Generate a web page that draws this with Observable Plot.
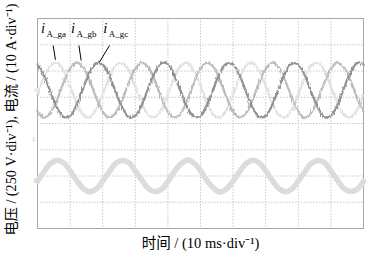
<!DOCTYPE html>
<html>
<head>
<meta charset="utf-8">
<script src="https://cdn.jsdelivr.net/npm/d3@7"></script>
<script src="https://cdn.jsdelivr.net/npm/@observablehq/plot@0.6"></script>
<style>
  html, body { margin: 0; padding: 0; background: white; }
</style>
</head>
<body>
<div id="chart"></div>
<script>
// time in ms (10 ms per division, 10 divisions)
const time = [0,2,4,6,8,10,12,14,16,18,20,22,24,26,28,30,32,34,36,38,40,42,44,46,48,50,52,54,56,58,60,62,64,66,68,70,72,74,76,78,80,82,84,86,88,90,92,94,96,98,100];
// values in divisions from the bottom of the screen
const iA_ga = [5.11,5.76,6.21,6.31,6.01,5.43,4.78,4.33,4.23,4.53, 5.12,5.75,6.22,6.30,6.02,5.42,4.79,4.32,4.24,4.52, 5.10,5.77,6.20,6.32,6.00,5.44,4.77,4.34,4.22,4.54, 5.11,5.76,6.21,6.31,6.01,5.43,4.78,4.33,4.23,4.53, 5.12,5.74,6.22,6.30,6.02,5.42,4.79,4.32,4.24,4.52, 5.11];
const iA_gb = [4.45,4.22,4.40,4.91,5.55,6.09,6.32,6.14,5.63,4.99, 4.46,4.21,4.41,4.90,5.56,6.08,6.33,6.13,5.64,4.98, 4.44,4.23,4.39,4.92,5.54,6.10,6.31,6.15,5.62,5.00, 4.45,4.22,4.40,4.91,5.55,6.09,6.32,6.14,5.63,4.99, 4.46,4.21,4.41,4.90,5.56,6.08,6.33,6.13,5.64,4.98, 4.45];
const iA_gc = [6.25,5.83,5.20,4.60,4.25,4.29,4.71,5.34,5.94,6.29, 6.24,5.84,5.19,4.61,4.24,4.30,4.70,5.35,5.93,6.30, 6.26,5.82,5.21,4.59,4.26,4.28,4.72,5.33,5.95,6.28, 6.25,5.83,5.20,4.60,4.25,4.29,4.71,5.34,5.94,6.29, 6.24,5.84,5.19,4.61,4.24,4.30,4.70,5.35,5.93,6.30, 6.25];
const voltage = [1.80,2.17,2.47,2.60,2.50,2.20,1.83,1.53,1.40,1.50, 1.81,2.16,2.48,2.59,2.51,2.19,1.84,1.52,1.41,1.49, 1.79,2.18,2.46,2.61,2.49,2.21,1.82,1.54,1.39,1.51, 1.80,2.17,2.47,2.60,2.50,2.20,1.83,1.53,1.40,1.50, 1.81,2.16,2.48,2.59,2.51,2.19,1.84,1.52,1.41,1.49, 1.80];

const xTicks = [10,20,30,40,50,60,70,80,90];
const yTicks = [1,2,3,4,5,6,7];

// labels for the current traces
const labelSub = ["A_ga","A_gb","A_gc"];
const labelT = [1.1, 10.3, 20.2];
const labelV = [7.43, 7.43, 7.43];
const leaderT1 = [4.8, 12.7, 22.1];
const leaderV1 = [6.97, 6.97, 6.97];
const leaderT2 = [5.5, 13.4, 19.0];
const leaderV2 = [6.43, 6.40, 6.34];

// oscilloscope screen markers at the left edge (ground levels, channel number)
const groundV = [5.27, 1.82];
const groundColor = ["#ececec", "#d6d6d6"];
const channelText = ["1"];
const channelV = [3.39];

const xLabel = "时间 / (10 ms·div⁻¹)";
const yLabel = "电压 / (250 V·div⁻¹), 电流 / (10 A·div⁻¹)";

const rows = (vals) => time.map((t, i) => ({t, v: vals[i]}));
const labels = labelSub.map((s, i) => ({s, t: labelT[i], v: labelV[i], t1: leaderT1[i], v1: leaderV1[i], t2: leaderT2[i], v2: leaderV2[i]}));
const grounds = groundV.map((v, i) => ({v, c: groundColor[i]}));

const font = "'Liberation Serif', 'Noto Sans CJK SC', serif";

const chart = Plot.plot({
  width: 368,
  height: 254,
  marginLeft: 37,
  marginRight: 5,
  marginTop: 18,
  marginBottom: 26,
  x: {domain: [0, 100], axis: null},
  y: {domain: [0, 8], axis: null},
  style: {background: "white", fontFamily: font},
  marks: [
    Plot.gridX(xTicks, {stroke: "#c8c8c8", strokeOpacity: 1, strokeDasharray: "1.5,1.5"}),
    Plot.gridY(yTicks, {stroke: "#c8c8c8", strokeOpacity: 1, strokeDasharray: "1.5,1.5"}),
    Plot.frame({stroke: "#a8a8a8"}),
    Plot.dot(grounds, {x: 0, y: "v", dx: -1, symbol: "square", r: 2.6, fill: "c", stroke: null}),
    Plot.text(channelText, {x: 0, y: channelV, text: d => d, dx: -4, fontSize: 6, fill: "#b0b0b0"}),
    Plot.line(rows(voltage), {x: "t", y: "v", stroke: "#dcdcdc", strokeWidth: 5.5, curve: "catmull-rom"}),
    Plot.line(rows(iA_ga), {x: "t", y: "v", stroke: "#e2e2e2", strokeWidth: 2.3, curve: "catmull-rom"}),
    Plot.line(rows(iA_gb), {x: "t", y: "v", stroke: "#bcbcbc", strokeWidth: 2.3, curve: "catmull-rom"}),
    Plot.line(rows(iA_gc), {x: "t", y: "v", stroke: "#939393", strokeWidth: 2.3, curve: "catmull-rom"}),
    Plot.link(labels, {x1: "t1", y1: "v1", x2: "t2", y2: "v2", stroke: "black", strokeWidth: 1}),
    Plot.text(labels, {x: "t", y: "v", text: () => "i", fontStyle: "italic", fontSize: 14.5, textAnchor: "start", lineAnchor: "bottom", fill: "black"}),
    Plot.text(labels, {x: "t", y: "v", text: "s", fontSize: 9, textAnchor: "start", lineAnchor: "bottom", dx: 5.5, dy: 4, fill: "black"}),
    Plot.text([xLabel], {frameAnchor: "bottom", textAnchor: "middle", lineAnchor: "middle", dy: 15, fontSize: 14.5, fill: "black"}),
    Plot.text([yLabel], {frameAnchor: "left", textAnchor: "middle", lineAnchor: "middle", rotate: -90, dx: -26, dy: -4, fontSize: 14.2, fill: "black"})
  ]
});

// add a switching-ripple texture to the current traces
const svgNS = "http://www.w3.org/2000/svg";
const defs = document.createElementNS(svgNS, "defs");
defs.innerHTML = '<filter id="rip" x="-5%" y="-20%" width="110%" height="140%"><feTurbulence type="fractalNoise" baseFrequency="0.9 0.25" numOctaves="1" seed="4" result="n"/><feDisplacementMap in="SourceGraphic" in2="n" scale="4" xChannelSelector="R" yChannelSelector="G"/></filter>';
chart.insertBefore(defs, chart.firstChild);
const lineGroups = chart.querySelectorAll('g[aria-label="line"]');
lineGroups.forEach((g, i) => { if (i > 0) g.setAttribute("filter", "url(#rip)"); });

document.getElementById("chart").appendChild(chart);
</script>
</body>
</html>
